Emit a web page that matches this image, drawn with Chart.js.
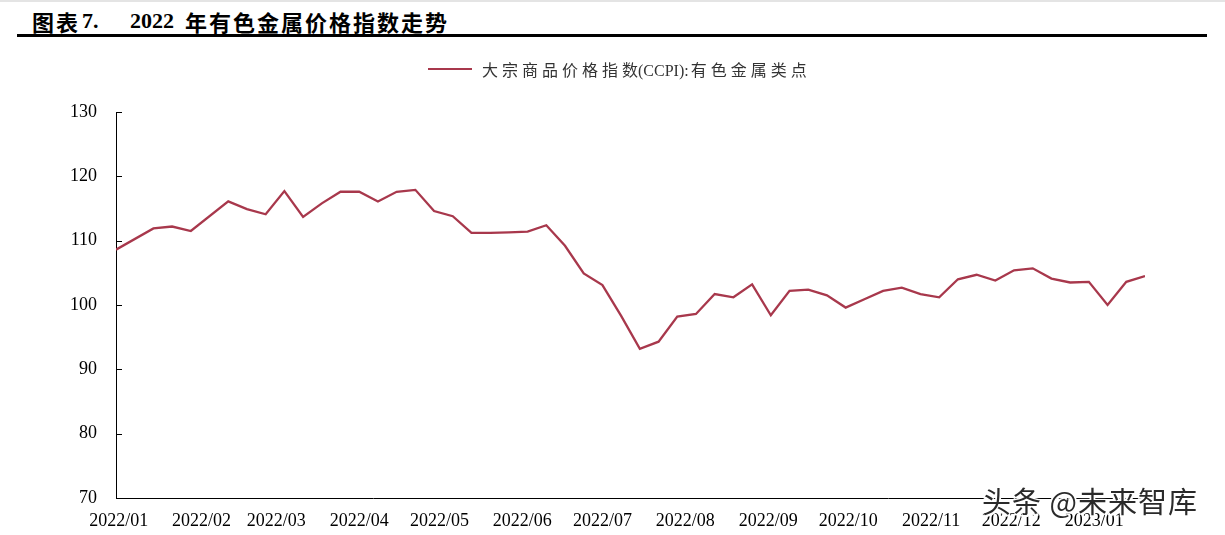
<!DOCTYPE html>
<html>
<head>
<meta charset="utf-8">
<script src="https://cdn.jsdelivr.net/npm/chart.js@4.4.1/dist/chart.umd.min.js"></script>
<style>
  html, body { margin: 0; padding: 0; background: #fff; }
  #wrap { position: relative; width: 1225px; height: 535px; overflow: hidden; background: #fff; }
  #topline { position: absolute; left: 0; top: 0; width: 1225px; height: 2px; background: #e4e4e4; }
  #title { position: absolute; top: 9px; left: 0; height: 26px; font-weight: bold; font-size: 22px; line-height: 24px; color: #000; white-space: nowrap; }
  #title span { position: absolute; top: 0; white-space: nowrap; }
  .cjk { font-family: "Noto Sans CJK SC", sans-serif; letter-spacing: 2px; }
  .lat { font-family: "Liberation Serif", "Times New Roman", serif; }
  #rule { position: absolute; left: 17px; top: 34px; width: 1190px; height: 3px; background: #000; }
  #legend { position: absolute; left: 428px; top: 58px; height: 22px; white-space: nowrap; }
  #legend .swatch { position: absolute; left: 0; top: 10px; width: 44px; height: 2px; }
  #legend .txt { position: absolute; left: 54px; top: 0; font-size: 16px; line-height: 22px; color: #333; white-space: nowrap; }
  #legend .txt .c { font-family: "Noto Sans CJK SC", sans-serif; letter-spacing: 4px; margin-right: -4px; }
  #legend .txt .l { font-family: "Liberation Serif", serif; letter-spacing: 0; margin-right: 2px; }
  #chartBox { position: absolute; left: 0; top: 0; width: 1225px; height: 535px; }
  #wm { position: absolute; left: 982px; top: 482px; font-family: "Noto Sans CJK SC", sans-serif; font-size: 29px; line-height: 36px; color: #2a2a2a; letter-spacing: 1px; white-space: nowrap;
        text-shadow: -1.5px -1.5px 0 #fff, 1.5px -1.5px 0 #fff, -1.5px 1.5px 0 #fff, 1.5px 1.5px 0 #fff, 0 0 3px #fff; }
</style>
</head>
<body>
<div id="wrap">
  <div id="topline"></div>
  <div id="title">
    <span class="cjk" style="left:32px">图表</span>
    <span class="lat" style="left:82px">7.</span>
    <span class="lat" style="left:130px">2022</span>
    <span class="cjk" style="left:185px">年有色金属价格指数走势</span>
  </div>
  <div id="rule"></div>
  <div id="chartBox"><canvas id="c" width="1225" height="535"></canvas></div>
  <div id="legend"></div>
  <div id="wm">头条 @未来智库</div>
</div>
<script>
// ---- data (weekly) ----
const dates = [
  "2021-12-31","2022-01-14","2022-01-21","2022-01-28",
  "2022-02-11","2022-02-18","2022-02-25",
  "2022-03-04","2022-03-11","2022-03-18","2022-03-25",
  "2022-04-01","2022-04-08","2022-04-15","2022-04-22","2022-04-29",
  "2022-05-06","2022-05-13","2022-05-20","2022-05-27",
  "2022-06-03","2022-06-10","2022-06-17","2022-06-24",
  "2022-07-01","2022-07-08","2022-07-15","2022-07-22","2022-07-29",
  "2022-08-05","2022-08-12","2022-08-19","2022-08-26",
  "2022-09-02","2022-09-09","2022-09-16","2022-09-23","2022-09-30",
  "2022-10-07","2022-10-14","2022-10-21","2022-10-28",
  "2022-11-04","2022-11-11","2022-11-18","2022-11-25",
  "2022-12-02","2022-12-09","2022-12-16","2022-12-23","2022-12-30",
  "2023-01-06","2023-01-13","2023-01-20"
];
const ccpiNonferrous = [
  108.6, 111.9, 112.2, 111.5,
  116.1, 114.9, 114.1,
  117.7, 113.7, 115.8, 117.6,
  117.6, 116.1, 117.6, 117.9, 114.6,
  113.8, 111.2, 111.2, 111.3,
  111.4, 112.4, 109.2, 104.9,
  103.1, 98.3, 93.2, 94.3, 98.2,
  98.6, 101.7, 101.2, 103.2,
  98.4, 102.2, 102.4, 101.5, 99.6,
  100.9, 102.2, 102.7, 101.7,
  101.2, 104.0, 104.7, 103.8,
  105.4, 105.7, 104.1, 103.5, 103.6,
  100.0, 103.6, 104.5
];
const tickDates = ["2022-01-01","2022-02-01","2022-03-01","2022-04-01","2022-05-01","2022-06-01",
  "2022-07-01","2022-08-01","2022-09-01","2022-10-01","2022-11-01","2022-12-01","2023-01-01"];
const tickLabels = ["2022/01","2022/02","2022/03","2022/04","2022/05","2022/06",
  "2022/07","2022/08","2022/09","2022/10","2022/11","2022/12","2023/01"];
const yTicks = [70, 80, 90, 100, 110, 120, 130];
const seriesName = "大宗商品价格指数(CCPI):有色金属类点";
const lineColor = "#A8384C";

// ---- helpers ----
const DAY = 86400000;
const t0 = Date.UTC(2021, 11, 31);
function dayOf(s) { const p = s.split("-").map(Number); return (Date.UTC(p[0], p[1]-1, p[2]) - t0) / DAY; }

// HTML legend
(function(){
  const lg = document.getElementById("legend");
  const sw = document.createElement("div"); sw.className = "swatch"; sw.style.background = lineColor; lg.appendChild(sw);
  const tx = document.createElement("div"); tx.className = "txt";
  const parts = seriesName.split(/(\(CCPI\):)/);
  parts.forEach(p => { if (!p) return; const s = document.createElement("span"); s.className = /CCPI/.test(p) ? "l" : "c"; s.textContent = p; tx.appendChild(s); });
  lg.appendChild(tx);
})();

const inwardTicks = {
  id: "inwardTicks",
  afterDraw(chart) {
    const y = chart.scales.y, ctx = chart.ctx, left = chart.chartArea.left;
    ctx.save(); ctx.strokeStyle = "#000"; ctx.lineWidth = 1;
    y.ticks.forEach(t => {
      const py = Math.round(y.getPixelForValue(t.value)) + 0.5;
      ctx.beginPath(); ctx.moveTo(left, py); ctx.lineTo(left + 6, py); ctx.stroke();
    });
    ctx.restore();
  }
};

new Chart(document.getElementById("c"), {
  type: "line",
  data: {
    datasets: [{
      label: seriesName,
      data: dates.map((d, i) => ({ x: dayOf(d), y: ccpiNonferrous[i] })),
      borderColor: lineColor,
      backgroundColor: lineColor,
      borderWidth: 2.3,
      pointRadius: 0,
      tension: 0,
      fill: false
    }]
  },
  options: {
    responsive: false,
    animation: false,
    events: [],
    layout: { padding: { top: 112, right: 80, left: 0, bottom: 0 } },
    plugins: { legend: { display: false }, tooltip: { enabled: false }, title: { display: false } },
    scales: {
      x: {
        type: "linear",
        min: dayOf(dates[0]),
        max: dayOf(dates[dates.length - 1]),
        afterBuildTicks: s => { s.ticks = tickDates.map(d => ({ value: dayOf(d) })); },
        afterFit: s => { s.height = 37; },
        grid: { display: false, drawTicks: false },
        border: { display: true, color: "#000", width: 1 },
        ticks: {
          autoSkip: false, maxRotation: 0, minRotation: 0, padding: 12,
          color: "#000", font: { family: "Liberation Serif", size: 18 },
          callback: (v, i) => tickLabels[i]
        }
      },
      y: {
        min: 70, max: 130,
        afterBuildTicks: s => { s.ticks = yTicks.map(v => ({ value: v })); },
        afterFit: s => { s.width = 116; },
        grid: { display: false, drawTicks: false },
        border: { display: true, color: "#000", width: 1 },
        ticks: { padding: 19, color: "#000", font: { family: "Liberation Serif", size: 18 } }
      }
    }
  },
  plugins: [inwardTicks]
});
</script>
</body>
</html>
